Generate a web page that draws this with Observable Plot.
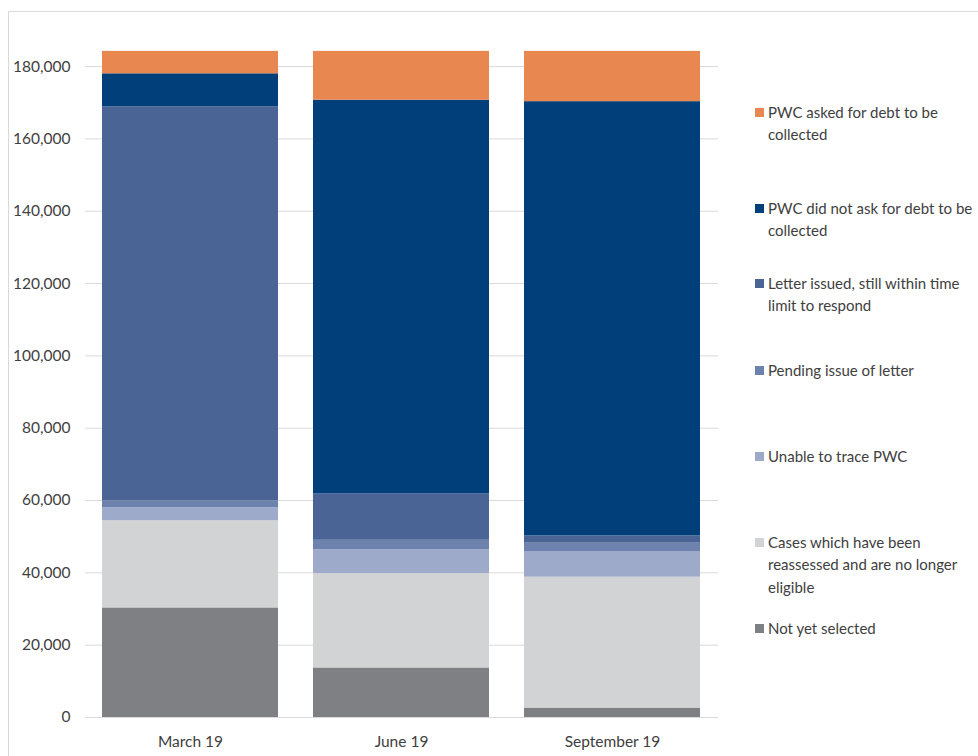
<!DOCTYPE html>
<html>
<head>
<meta charset="utf-8">
<script src="https://cdn.jsdelivr.net/npm/d3@7"></script>
<script src="https://cdn.jsdelivr.net/npm/@observablehq/plot@0.6"></script>
<style>
  html, body { margin: 0; padding: 0; background: #fff; }
  #wrap { position: relative; width: 978px; height: 756px; overflow: hidden; font-family: Lato, sans-serif; }
  #frame { position: absolute; left: 8px; top: 11px; width: 1000px; height: 800px; border: 1px solid #d9d9d9; box-sizing: border-box; }
  #chart { position: absolute; left: 0; top: 0; }
  .leg { position: absolute; left: 755px; width: 225px; font-size: 15px; line-height: 22.5px; color: #404040; }
  .leg .sw { position: absolute; left: 0; top: 7px; width: 9px; height: 9px; }
  .leg .tx { margin-left: 13px; }
</style>
</head>
<body>
<div id="wrap"><div id="frame"></div><div id="chart"></div></div>
<script>
const months = ["March 19", "June 19", "September 19"];
const seriesNames = [
  "Not yet selected",
  "Cases which have been reassessed and are no longer eligible",
  "Unable to trace PWC",
  "Pending issue of letter",
  "Letter issued, still within time limit to respond",
  "PWC did not ask for debt to be collected",
  "PWC asked for debt to be collected"
];
const notYetSelected = [30300, 13700, 2600];
const reassessed     = [24100, 26100, 36200];
const unableToTrace  = [3600, 6600, 7100];
const pendingLetter  = [1900, 2600, 2300];
const letterIssued   = [109000, 12800, 2000];
const didNotAsk      = [9100, 108900, 120100];
const asked          = [6200, 13500, 13900];
const seriesColors = ["#7f8083", "#d2d3d5", "#9eaaca", "#6d83ae", "#4a6595", "#003f7a", "#e8874f"];
const yTicks = [0, 20000, 40000, 60000, 80000, 100000, 120000, 140000, 160000, 180000];

const seriesValues = [notYetSelected, reassessed, unableToTrace, pendingLetter, letterIssued, didNotAsk, asked];
const data = [];
seriesNames.forEach((s, i) => months.forEach((m, j) => data.push({month: m, series: s, value: seriesValues[i][j]})));

const chart = Plot.plot({
  width: 978,
  height: 756,
  marginLeft: 85,
  marginRight: 260,
  marginTop: 48,
  marginBottom: 39,
  style: {fontFamily: "Lato, sans-serif", fontSize: "15.5px", color: "#404040", background: "transparent"},
  x: {domain: months, paddingInner: 0.165, paddingOuter: 0.076, label: null},
  y: {domain: [0, 185000], label: null},
  color: {domain: seriesNames, range: seriesColors},
  marks: [
    Plot.gridY(yTicks, {stroke: "#d9d9d9", strokeOpacity: 1}),
    Plot.ruleY([0], {stroke: "#d9d9d9"}),
    Plot.barY(data, Plot.stackY({x: "month", y: "value", fill: "series", z: "series", order: seriesNames})),
    Plot.axisY({ticks: yTicks, tickFormat: d3.format(","), tickSize: 0, tickPadding: 15, label: null, fontSize: 15.5}),
    Plot.axisX({tickSize: 0, tickPadding: 18, label: null, fontSize: 15.5})
  ]
});
document.getElementById("chart").appendChild(chart);

// legend (first-line centre positions)
const legendOrder = [6, 5, 4, 3, 2, 1, 0];
const legendCenters = [112, 208, 283, 370, 456, 542, 628];
const wrap = document.getElementById("wrap");
legendOrder.forEach((idx, k) => {
  const div = document.createElement("div");
  div.className = "leg";
  div.style.top = (legendCenters[k] - 11.25) + "px";
  const sw = document.createElement("div");
  sw.className = "sw";
  sw.style.background = seriesColors[idx];
  const tx = document.createElement("div");
  tx.className = "tx";
  tx.textContent = seriesNames[idx];
  div.appendChild(sw);
  div.appendChild(tx);
  wrap.appendChild(div);
});
</script>
</body>
</html>
